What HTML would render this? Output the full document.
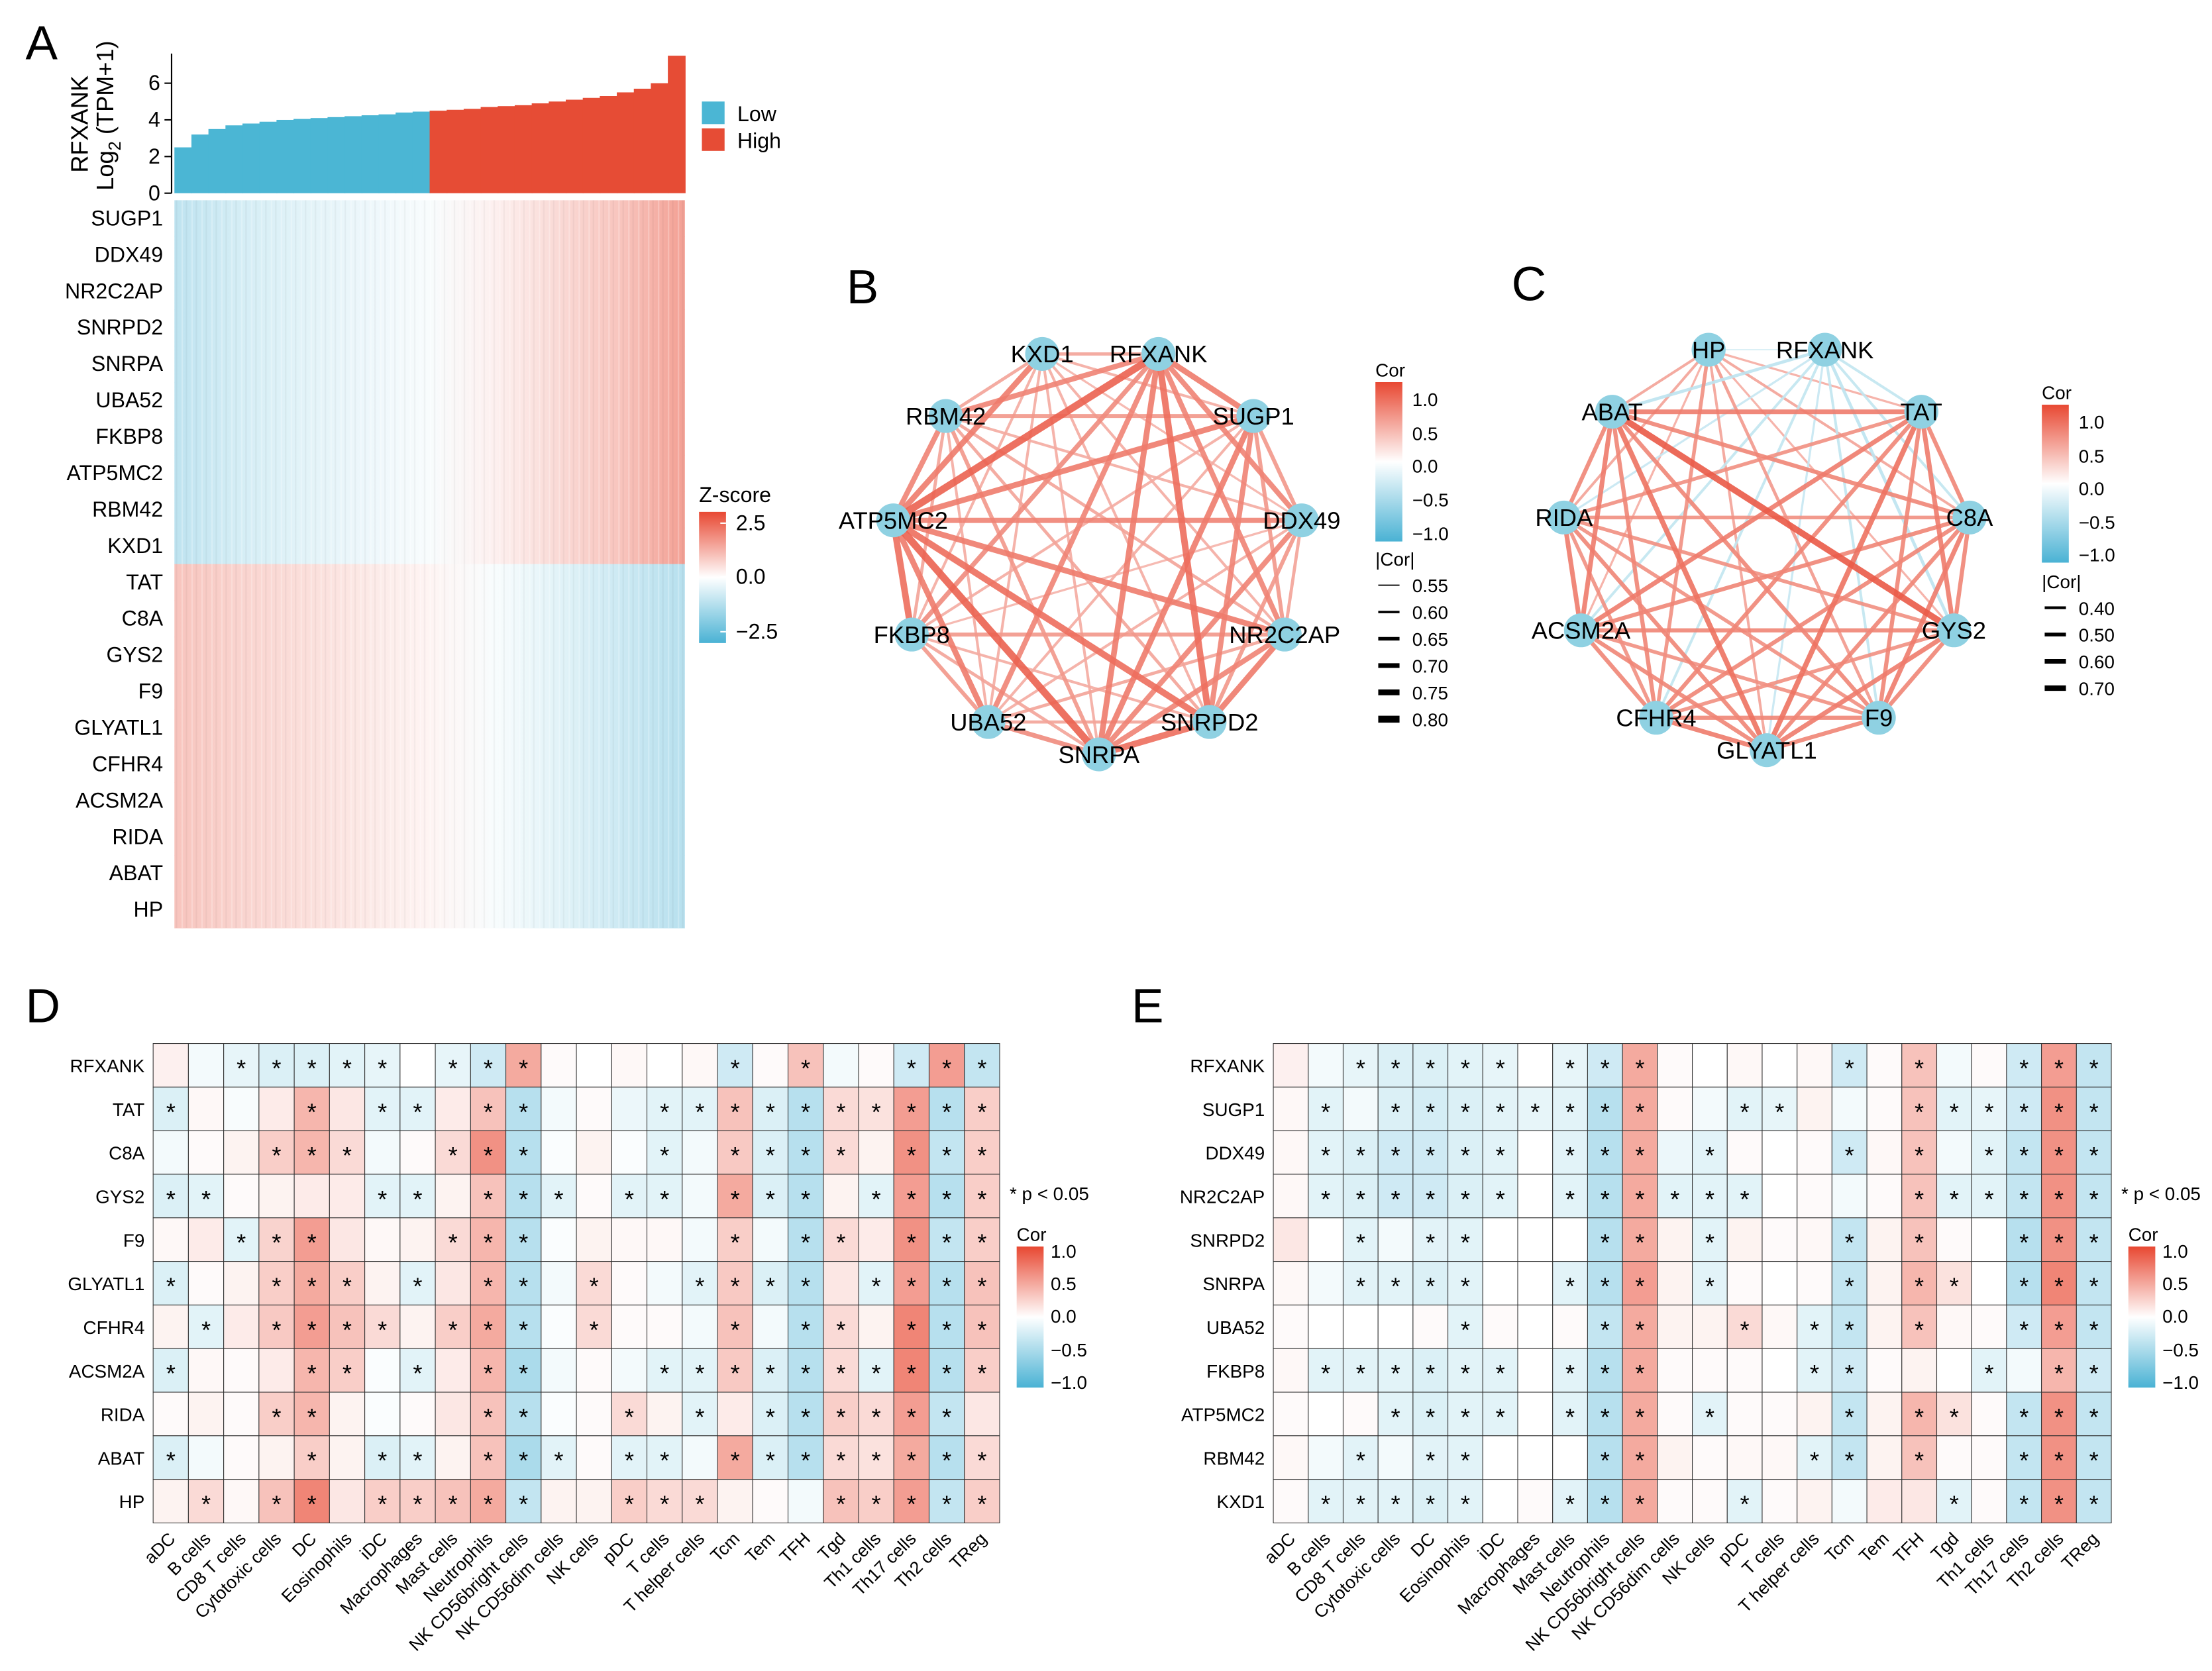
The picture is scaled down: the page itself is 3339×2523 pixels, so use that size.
<!DOCTYPE html>
<html><head><meta charset="utf-8">
<style>
html,body{margin:0;padding:0;background:#fff;}
svg{display:block;font-family:"Liberation Sans",Arial,sans-serif;}
</style></head>
<body>
<svg id="fig" width="3339" height="2523" viewBox="0 0 1560 1185" preserveAspectRatio="none" xmlns="http://www.w3.org/2000/svg">
<rect width="1560" height="1185" fill="#fff"/>
<g id="gA"></g>
<g id="gB"></g>
<g id="gC"></g>
<g id="gD"></g>
<g id="gE"></g>
</svg>
<script>
// ---------- DATA ----------
const expValues = [2.5,3.2,3.5,3.7,3.8,3.9,4.0,4.05,4.1,4.15,4.2,4.25,4.3,4.4,4.45,4.5,4.55,4.6,4.7,4.75,4.8,4.9,5.0,5.1,5.2,5.3,5.5,5.7,6.0,7.5];
const expTicks = [0,2,4,6];
const heatGenesA = ["SUGP1","DDX49","NR2C2AP","SNRPD2","SNRPA","UBA52","FKBP8","ATP5MC2","RBM42","KXD1","TAT","C8A","GYS2","F9","GLYATL1","CFHR4","ACSM2A","RIDA","ABAT","HP"];
const upProfile = [-0.9,-0.6,-0.4,-0.25,-0.1,0.2,0.5,0.8,1.3];
const downProfile = [0.8,0.6,0.45,0.3,0.15,-0.1,-0.4,-0.7,-1.0];

const netBGenes = ["RFXANK","SUGP1","DDX49","NR2C2AP","SNRPD2","SNRPA","UBA52","FKBP8","ATP5MC2","RBM42","KXD1"];
const netBCor = [0.72,0.7,0.7,0.75,0.72,0.7,0.68,0.78,0.7,0.62,
 0.65,0.65,0.7,0.72,0.6,0.6,0.72,0.65,0.6,
 0.62,0.65,0.7,0.6,0.58,0.7,0.6,0.58,
 0.72,0.7,0.62,0.65,0.72,0.62,0.6,
 0.75,0.62,0.6,0.75,0.62,0.6,
 0.68,0.62,0.78,0.65,0.6,
 0.65,0.72,0.6,0.6,
 0.75,0.62,0.6,
 0.7,0.72,
 0.62];
const netCGenes = ["HP","RFXANK","TAT","C8A","GYS2","F9","GLYATL1","CFHR4","ACSM2A","RIDA","ABAT"];
const netCCor = [-0.2,0.3,0.35,0.3,0.4,0.35,0.45,0.3,0.35,0.35,
 -0.35,-0.35,-0.4,-0.35,-0.3,-0.35,-0.35,-0.3,-0.4,
 0.5,0.55,0.5,0.6,0.5,0.55,0.45,0.55,
 0.5,0.55,0.5,0.5,0.5,0.45,0.5,
 0.5,0.55,0.45,0.5,0.45,0.72,
 0.5,0.5,0.45,0.45,0.5,
 0.55,0.5,0.5,0.6,
 0.5,0.45,0.5,
 0.55,0.55,
 0.5];

const cellTypes = ["aDC","B cells","CD8 T cells","Cytotoxic cells","DC","Eosinophils","iDC","Macrophages","Mast cells","Neutrophils","NK CD56bright cells","NK CD56dim cells","NK cells","pDC","T cells","T helper cells","Tcm","Tem","TFH","Tgd","Th1 cells","Th17 cells","Th2 cells","TReg"];
const genesD = ["RFXANK","TAT","C8A","GYS2","F9","GLYATL1","CFHR4","ACSM2A","RIDA","ABAT","HP"];
const corD = [
[0.06,-0.05,-0.1,-0.15,-0.15,-0.12,-0.1,0,-0.1,-0.2,0.35,0.02,0,0.03,0,0.03,-0.2,0.02,0.25,-0.05,0.02,-0.2,0.4,-0.25],
[-0.15,0.03,-0.03,0.08,0.3,0.1,-0.12,-0.12,0.08,0.25,-0.3,-0.05,0.02,-0.08,-0.12,-0.12,0.25,-0.15,-0.3,0.15,0.12,0.4,-0.3,0.2],
[-0.05,0.02,0.05,0.2,0.3,0.15,-0.05,0.02,0.15,0.45,-0.3,-0.02,0.05,-0.02,-0.12,-0.05,0.22,-0.15,-0.3,0.15,0.05,0.45,-0.25,0.2],
[-0.15,-0.12,0.02,0.05,0.08,0.08,-0.12,-0.12,0.05,0.25,-0.3,-0.12,0.02,-0.12,-0.12,-0.05,0.35,-0.15,-0.3,0.05,-0.12,0.4,-0.3,0.2],
[0.03,0.08,-0.12,0.18,0.4,0.1,0.03,0.05,0.15,0.3,-0.3,-0.02,0.05,0.03,0.03,-0.05,0.2,-0.05,-0.3,0.15,0.08,0.45,-0.25,0.2],
[-0.15,0.02,0.05,0.2,0.35,0.2,0.05,-0.12,0.1,0.3,-0.3,-0.05,0.15,0.02,-0.05,-0.12,0.22,-0.15,-0.3,0.1,-0.12,0.4,-0.3,0.25],
[0.05,-0.12,0.08,0.22,0.4,0.25,0.15,0.05,0.2,0.35,-0.3,-0.02,0.15,0.02,0.02,-0.05,0.25,-0.05,-0.3,0.15,0.05,0.5,-0.3,0.25],
[-0.15,0.03,0.02,0.08,0.3,0.2,-0.02,-0.12,0.08,0.3,-0.35,-0.05,0.02,-0.05,-0.12,-0.12,0.22,-0.15,-0.3,0.15,-0.12,0.5,-0.3,0.2],
[0.02,0.05,0.02,0.2,0.3,0.05,-0.02,0.02,0.1,0.25,-0.3,-0.02,0.02,0.15,0.05,-0.12,0.08,-0.15,-0.3,0.2,0.15,0.4,-0.25,0.1],
[-0.15,-0.05,0.02,0.05,0.2,0.05,-0.15,-0.12,0.05,0.25,-0.35,-0.12,0.02,-0.12,-0.12,-0.05,0.35,-0.15,-0.3,0.15,0.12,0.35,-0.3,0.15],
[0.05,0.15,0.03,0.25,0.5,0.1,0.2,0.2,0.25,0.35,-0.25,0.05,0.05,0.2,0.15,0.15,0.05,0.02,-0.05,0.25,0.2,0.4,-0.25,0.2]];
const starsD = [
"..*****.***.....*.*..***",
"*...*.**.**...**********",
"...***..***...*.****.***",
"**....**.***.**.***.****",
"..***...***.....*.**.***",
"*..***.*.**.*..****.****",
".*.****.***.*...*.**.***",
"*...**.*.**...**********",
"...**....**..*.*.******.",
"*...*.**.***.**.********",
".*.**.*****..***...*****"];
const genesE = ["RFXANK","SUGP1","DDX49","NR2C2AP","SNRPD2","SNRPA","UBA52","FKBP8","ATP5MC2","RBM42","KXD1"];
const corE = [
[0.06,-0.05,-0.1,-0.15,-0.15,-0.12,-0.1,0,-0.1,-0.2,0.35,0.02,0,0.03,0,0.03,-0.2,0.02,0.25,-0.05,0.02,-0.2,0.4,-0.25],
[0.03,-0.12,-0.05,-0.15,-0.18,-0.15,-0.12,-0.1,-0.12,-0.3,0.35,0.02,-0.05,-0.12,-0.1,0.05,-0.05,0.02,0.25,-0.12,-0.1,-0.2,0.45,-0.25],
[0.03,-0.12,-0.15,-0.2,-0.2,-0.15,-0.12,0,-0.12,-0.3,0.35,-0.08,-0.12,0.02,0,0.02,-0.2,0.03,0.25,-0.05,-0.12,-0.25,0.45,-0.25],
[0.03,-0.12,-0.15,-0.2,-0.2,-0.15,-0.12,0,-0.12,-0.3,0.35,-0.12,-0.12,-0.12,0,0.02,-0.05,0.02,0.25,-0.12,-0.12,-0.25,0.45,-0.25],
[0.1,0,-0.12,-0.05,-0.12,-0.12,0,0,0,-0.3,0.35,0.05,-0.12,0.05,0.02,0.03,-0.25,0.05,0.25,0.02,0,-0.3,0.45,-0.25],
[0.03,-0.05,-0.12,-0.12,-0.15,-0.12,0,0,-0.12,-0.3,0.4,0.05,-0.12,0.02,0,0.02,-0.25,0.05,0.3,0.12,0,-0.3,0.5,-0.25],
[0.02,0,0,0,0.02,-0.12,0.02,0,0.02,-0.25,0.35,0.05,0.05,0.15,0.03,-0.12,-0.25,0.05,0.25,0.03,0.02,-0.2,0.4,-0.25],
[0.03,-0.12,-0.12,-0.12,-0.15,-0.12,-0.12,0,-0.12,-0.3,0.35,0.02,0.02,0.02,0,-0.12,-0.2,0.02,0.05,0,-0.12,-0.05,0.3,-0.2],
[0.02,0,0.02,-0.12,-0.15,-0.12,-0.12,0,-0.12,-0.3,0.35,0.02,-0.12,0.02,0.02,0.05,-0.25,0.05,0.3,0.12,0.02,-0.25,0.45,-0.25],
[0.03,-0.05,-0.12,-0.05,-0.12,-0.12,0,0,0,-0.3,0.35,0.05,0.02,0.03,0.03,-0.12,-0.25,0.05,0.25,0.02,0.02,-0.25,0.45,-0.25],
[0.02,-0.12,-0.12,-0.12,-0.15,-0.12,0,0.02,-0.12,-0.3,0.35,0.02,0.02,-0.12,0.02,0.05,-0.05,0.08,0.1,-0.12,0.02,-0.25,0.45,-0.25]];
const starsE = [
"..*****.***.....*.*..***",
".*.********..**...******",
".******.***.*...*.*.****",
".******.******....******",
"..*.**...**.*...*.*..***",
"..****..***.*...*.**.***",
".....*...**..*.**.*..***",
".******.***....**...*.**",
"...****.***.*...*.**.***",
"..*.**...**....**.*..***",
".*****..***..*.....*.***"];

// ---------- HELPERS ----------
const NS="http://www.w3.org/2000/svg";
function mk(parent,tag,attrs,txt){const e=document.createElementNS(NS,tag);for(const k in attrs)e.setAttribute(k,attrs[k]);if(txt!==undefined)e.textContent=txt;parent.appendChild(e);return e;}
function lerp(a,b,t){return Math.round(a+(b-a)*t);}
const RED=[232,72,50], BLUE=[74,178,212];
function corColor(v,scale){let t=Math.min(1,Math.abs(v)/scale);const c=v>=0?RED:BLUE;return `rgb(${lerp(255,c[0],t)},${lerp(255,c[1],t)},${lerp(255,c[2],t)})`;}
const defs=mk(document.getElementById('fig'),'defs',{});
function vGrad(id,stops){const g=mk(defs,'linearGradient',{id:id,x1:0,y1:0,x2:0,y2:1});stops.forEach(s=>mk(g,'stop',{offset:s[0],'stop-color':s[1]}));}
vGrad('gradZ',[[0,'rgb(232,72,50)'],[0.5,'#fff'],[1,'rgb(74,178,212)']]);
vGrad('gradCor',[[0,'rgb(232,72,50)'],[0.5,'#fff'],[1,'rgb(74,178,212)']]);

// ---------- PANEL A ----------
const gA=document.getElementById('gA');
let t=mk(gA,'text',{x:18,y:42,'font-size':34});
t.textContent='A';
const bx0=123,bx1=483,by0=137,yPer=13;
const yS=v=>by0-v*yPer;
mk(gA,'line',{x1:bx0-2,y1:38,x2:bx0-2,y2:by0,stroke:'#000','stroke-width':1});
expTicks.forEach(v=>{mk(gA,'line',{x1:bx0-7,y1:yS(v),x2:bx0-2,y2:yS(v),stroke:'#000'});
 const l=mk(gA,'text',{x:bx0-10,y:yS(v)+5,'font-size':15,'text-anchor':'end'},v);
 });
const yt=mk(gA,'text',{transform:'translate(62,88) rotate(-90)','font-size':17,'text-anchor':'middle'});

yt.innerHTML='RFXANK';
const yt2=mk(gA,'text',{transform:'translate(80,82) rotate(-90)','font-size':17,'text-anchor':'middle'});

yt2.innerHTML='Log<tspan font-size="12" dy="5">2</tspan><tspan dy="-5"> (TPM+1)</tspan>';
const bw=(bx1-bx0)/expValues.length;
expValues.forEach((v,i)=>{const r=mk(gA,'rect',{x:bx0+i*bw,y:yS(v),width:bw+0.5,height:v*yPer,fill:i<expValues.length/2?'#4bb6d4':'#e64c35'});
 });
[['Low','#4bb6d4',72],['High','#e64c35',91]].forEach(d=>{const g=mk(gA,'g',{});
 mk(g,'rect',{x:495,y:d[2],width:16,height:16,fill:d[1]});mk(g,'text',{x:520,y:d[2]+14,'font-size':15},d[0]);});
const hy0=142,hh=(658-142)/heatGenesA.length;
heatGenesA.forEach((g,i)=>{const prof=i<10?upProfile:downProfile;const gid='ga'+i;
 const lg=mk(defs,'linearGradient',{id:gid,x1:0,y1:0,x2:1,y2:0});
 prof.forEach((v,j)=>mk(lg,'stop',{offset:j/(prof.length-1),'stop-color':corColor(v,2.5)}));
 const r=mk(gA,'rect',{x:bx0,y:hy0+i*hh,width:bx1-bx0,height:hh+0.3,fill:`url(#${gid})`});
 
 const l=mk(gA,'text',{x:115,y:hy0+i*hh+hh/2+5,'font-size':15,'text-anchor':'end'},g);
 });
const pat=mk(defs,'pattern',{id:'stripes',width:7,height:10,patternUnits:'userSpaceOnUse'});
mk(pat,'rect',{x:2,y:0,width:1,height:10,fill:'rgba(255,255,255,0.25)'});mk(pat,'rect',{x:5,y:0,width:1,height:10,fill:'rgba(0,0,0,0.04)'});
mk(gA,'rect',{x:bx0,y:hy0,width:bx1-bx0,height:658-hy0,fill:'url(#stripes)'});
const zl=mk(gA,'g',{});
mk(zl,'text',{x:493,y:356,'font-size':15},'Z-score');
mk(zl,'rect',{x:493,y:363,width:19,height:93,fill:'url(#gradZ)'});
[['2.5',371],['0.0',409],['\u22122.5',448]].forEach(d=>{mk(zl,'line',{x1:508,x2:512,y1:d[1],y2:d[1],stroke:'#fff'});mk(zl,'text',{x:519,y:d[1]+5,'font-size':15},d[0]);});

// ---------- NETWORKS ----------
function network(gid,letter,lx,ly,genes,cors,pos,wmin,wmax,cmin,cmax,legX,corLabels,absLabels,absVals){
 const G=document.getElementById(gid);
 const l=mk(G,'text',{x:lx,y:ly,'font-size':34},letter);
 const n=genes.length;let k=0;const edges=[];
 for(let i=0;i<n;i++)for(let j=i+1;j<n;j++){edges.push([i,j,cors[k++]]);}
 edges.sort((a,b)=>Math.abs(a[2])-Math.abs(b[2]));
 edges.forEach(e=>{const a=Math.abs(e[2]);const w=wmin+(a-cmin)/(cmax-cmin)*(wmax-wmin);
  const col=e[2]>0?corColor(0.35+(a-cmin)/(cmax-cmin)*0.55,1):corColor(-0.25-(a-0.2)*0.6,1);
  const ln=mk(G,'line',{x1:pos[e[0]][0],y1:pos[e[0]][1],x2:pos[e[1]][0],y2:pos[e[1]][1],stroke:col,'stroke-width':Math.max(0.6,w),'stroke-opacity':0.9});
  });
 genes.forEach((g,i)=>{const nd=mk(G,'circle',{cx:pos[i][0],cy:pos[i][1],r:12,fill:'#8fd1e2'});
  
  const tl=mk(G,'text',{x:pos[i][0],y:pos[i][1]+6,'font-size':17,'text-anchor':'middle'},g);
  });
 const lg=mk(G,'g',{});
 const ctop=corLabels[0][1]-12;
 mk(lg,'text',{x:legX,y:ctop-4,'font-size':13},'Cor');
 mk(lg,'rect',{x:legX,y:ctop,width:19,height:corLabels[corLabels.length-1][1]-ctop+6,fill:'url(#gradCor)'});
 corLabels.forEach(d=>mk(lg,'text',{x:legX+26,y:d[1]+5,'font-size':13},d[0]));
 const ag=mk(G,'g',{});
 mk(ag,'text',{x:legX,y:absLabels[0]-14,'font-size':13},'|Cor|');
 absVals.forEach((v,i)=>{const w=wmin+(v-cmin)/(cmax-cmin)*(wmax-wmin);
  mk(ag,'line',{x1:legX+2,x2:legX+17,y1:absLabels[i],y2:absLabels[i],stroke:'#000','stroke-width':Math.max(0.8,w*0.9)});
  mk(ag,'text',{x:legX+26,y:absLabels[i]+5,'font-size':13},v.toFixed(2));});
}
network('gB','B',597,215,netBGenes,netBCor,
 [[817,251],[884,295],[918,369],[906,450],[853,512],[775,535],[697,512],[643,450],[630,369],[667,295],[735,251]],
 1,5.5,0.55,0.8,970,[['1.0',283],['0.5',307],['0.0',330],['\u22120.5',354],['\u22121.0',378]],[415,434,453,472,491,510],[0.55,0.6,0.65,0.7,0.75,0.8]);
network('gC','C',1066,213,netCGenes,netCCor,
 [[1205,248],[1287,248],[1355,292],[1389,367],[1378,447],[1325,509],[1246,532],[1168,509],[1115,447],[1103,367],[1137,292]],
 0.8,4.5,0.2,0.72,1440,[['1.0',299],['0.5',323],['0.0',346],['\u22120.5',370],['\u22121.0',393]],[431,450,469,488],[0.4,0.5,0.6,0.7]);

// ---------- CORRELATION HEATMAPS ----------
function corHeat(gid,letter,lx,x0,x1,genes,cors,stars,labelX,legX){
 const G=document.getElementById(gid);
 const l=mk(G,'text',{x:lx,y:725,'font-size':34},letter);
 const y0=740,y1=1080,cw=(x1-x0)/cellTypes.length,ch=(y1-y0)/genes.length;
 genes.forEach((g,i)=>{cellTypes.forEach((c,j)=>{
   const r=mk(G,'rect',{x:x0+j*cw,y:y0+i*ch,width:cw,height:ch,fill:corColor(cors[i][j],0.75),stroke:'#333','stroke-width':0.5});
   
   if(stars[i] && stars[i][j]==='*'){const s=mk(G,'text',{x:x0+j*cw+cw/2,y:y0+i*ch+ch/2+8,'font-size':17,'text-anchor':'middle'},'*');
    }
  });
  const rl=mk(G,'text',{x:labelX,y:y0+i*ch+ch/2+5,'font-size':13,'text-anchor':'end'},g);
  });
 cellTypes.forEach((c,j)=>{const cx=x0+j*cw+cw/2+4;
  const cl=mk(G,'text',{x:cx,y:y1+12,'font-size':12.5,'text-anchor':'end',transform:`rotate(-45 ${cx} ${y1+12})`},c);
  });
 const n=mk(G,'text',{x:legX-3,y:851,'font-size':13},'* p < 0.05');
 const lg=mk(G,'g',{});
 mk(lg,'text',{x:legX+2,y:880,'font-size':13},'Cor');
 mk(lg,'rect',{x:legX+2,y:884,width:19,height:100,fill:'url(#gradCor)'});
 [['1.0',887],['0.5',910],['0.0',933],['\u22120.5',957],['\u22121.0',980]].forEach(d=>mk(lg,'text',{x:legX+26,y:d[1]+5,'font-size':13},d[0]));
}
corHeat('gD','D',18,108,705,genesD,corD,starsD,102,715);
corHeat('gE','E',798,898,1489,genesE,corE,starsE,892,1499);
</script>
</body></html>
